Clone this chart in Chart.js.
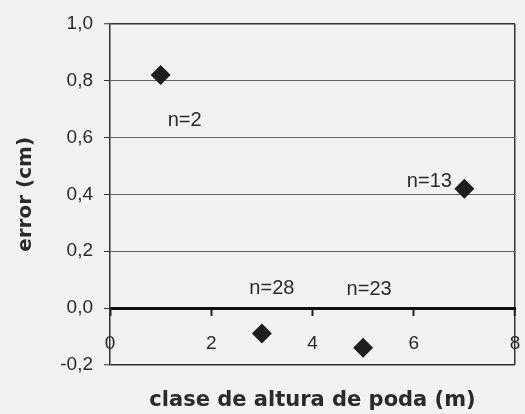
<!DOCTYPE html>
<html><head><meta charset="utf-8">
<script src="https://cdn.jsdelivr.net/npm/chart.js@4"></script>
<style>html,body{margin:0;padding:0;background:#f2f2f2;} #wrap{width:525px;height:414px;position:relative;}</style>
</head><body><div id="wrap"><canvas id="c"></canvas></div>
<script>
// data
const categories = [1, 3, 5, 7];            // clase de altura de poda (m)
const errorValues = [0.82, -0.09, -0.14, 0.42]; // error (cm)
const sampleLabels = ['n=2', 'n=28', 'n=23', 'n=13'];
const xTickValues = [0, 2, 4, 6, 8];
const xTickLabels = ['0', '2', '4', '6', '8'];
const yTickValues = [-0.2, 0, 0.2, 0.4, 0.6, 0.8, 1.0];
const yTickLabels = ['-0,2', '0,0', '0,2', '0,4', '0,6', '0,8', '1,0'];
const xTitle = 'clase de altura de poda (m)';
const yTitle = 'error (cm)';

// styling (pixel offsets of the n= labels from their points)
const labelOffsets = [[24, 45], [10, -45], [6, -58], [-35, -7]];
const ink = '#2a2a2a';

const bgPlugin = {
  id: 'bg',
  beforeDraw(chart) {
    const c = chart.ctx;
    c.save(); c.fillStyle = '#f2f2f2'; c.fillRect(0, 0, chart.width, chart.height); c.restore();
  }
};
const nLabelPlugin = {
  id: 'nlabels',
  afterDatasetsDraw(chart) {
    const meta = chart.getDatasetMeta(0);
    const c = chart.ctx;
    c.save();
    c.font = '20px "Liberation Sans", Arial, sans-serif';
    c.fillStyle = ink; c.textAlign = 'center'; c.textBaseline = 'middle';
    meta.data.forEach((el, i) => {
      c.fillText(sampleLabels[i], el.x + labelOffsets[i][0], el.y + labelOffsets[i][1]);
    });
    c.restore();
  }
};

new Chart(document.getElementById('c'), {
  type: 'scatter',
  data: {
    datasets: [{
      data: categories.map((x, i) => ({ x: x, y: errorValues[i] })),
      pointStyle: 'rectRot',
      pointRadius: 10,
      pointBorderWidth: 0,
      backgroundColor: '#1e1e1e',
      borderColor: '#1e1e1e'
    }]
  },
  options: {
    responsive: true,
    maintainAspectRatio: false,
    animation: false,
    events: [],
    layout: { padding: { left: 0, top: 24, right: 3.5, bottom: 0 } },
    plugins: {
      legend: { display: false },
      tooltip: { enabled: false },
      title: {
        display: true, position: 'bottom', text: xTitle, color: ink, fullSize: false,
        font: { family: 'DejaVu Sans', size: 21, weight: 'bold', lineHeight: 1.2 },
        padding: { top: 23, bottom: 1 }
      }
    },
    scales: {
      x: {
        type: 'linear', min: 0, max: 8,
        position: { y: 0 },
        afterBuildTicks: s => { s.ticks = xTickValues.map(v => ({ value: v })); },
        afterFit: s => { s.height = 0; s.paddingLeft = 0; s.paddingRight = 0; },
        ticks: {
          autoSkip: false, maxRotation: 0, padding: 18, color: ink,
          font: { family: 'Liberation Sans', size: 19 },
          callback: (v, i) => xTickLabels[i]
        },
        grid: {
          drawOnChartArea: true,
          color: ctx => (ctx.tick && ctx.tick.value === 8) ? '#333' : 'rgba(0,0,0,0)',
          lineWidth: ctx => (ctx.tick && ctx.tick.value === 8) ? 1.5 : 1,
          tickColor: '#222', tickWidth: 2, tickLength: 6
        },
        border: { display: true, color: '#111', width: 3 }
      },
      y: {
        type: 'linear', min: -0.2, max: 1.0,
        afterBuildTicks: s => { s.ticks = yTickValues.map(v => ({ value: v })); },
        afterFit: s => { s.width = 110; },
        ticks: {
          padding: 11, color: ink,
          font: { family: 'Liberation Sans', size: 19 },
          callback: (v, i) => yTickLabels[i]
        },
        grid: {
          color: ctx => (ctx.tick && (ctx.tick.value === 1 || Math.abs(ctx.tick.value + 0.2) < 1e-9)) ? '#333' : '#666',
          lineWidth: ctx => (ctx.tick && (ctx.tick.value === 1 || Math.abs(ctx.tick.value + 0.2) < 1e-9)) ? 1.5 : 1,
          tickColor: '#333', tickLength: 6, tickWidth: 1
        },
        border: { display: true, color: '#333', width: 1.5 },
        title: {
          display: true, text: yTitle, color: ink,
          font: { family: 'DejaVu Sans', size: 20, weight: 'bold', lineHeight: 1.2 },
          padding: { top: 14, bottom: 0 }
        }
      }
    }
  },
  plugins: [bgPlugin, nLabelPlugin]
});
</script>
</body></html>
